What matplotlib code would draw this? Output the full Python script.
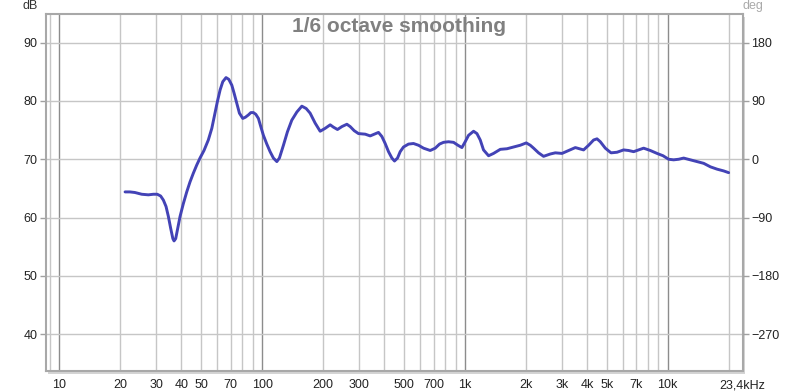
import numpy as np
import matplotlib
matplotlib.use("Agg")
import matplotlib.pyplot as plt
from matplotlib.patches import Rectangle

plt.rcParams['font.family'] = ['Liberation Sans', 'DejaVu Sans']

freq_hz = [21.1, 22.3, 23.6, 25.5, 27.5, 29.1, 30.4, 31.6, 32.6, 33.6, 34.5, 35.4,
           36.3, 36.8, 37.5, 38.4, 39.4, 40.9, 42.5, 44.1, 45.8, 47.6, 49.4, 51.7,
           54.3, 56.5, 58.6, 60.2, 62.1, 64.0, 66.4, 68.5, 70.9, 72.8, 75.0, 77.3,
           80.3, 82.7, 85.6, 88.0, 90.6, 93.1, 95.9, 98.5, 101.5, 105.5, 109.5, 113.7,
           118.2, 121.7, 127.4, 133.3, 140.1, 148.4, 157.0, 164.9, 172.5, 182.6, 193.3,
           204.6, 216.6, 224.8, 235.3, 247.4, 261.8, 271.8, 284.4, 298.6, 322.3, 341.1,
           357.0, 374.8, 389.5, 404.4, 420.0, 436.5, 449.6, 465.2, 479.6, 497.9, 527.0,
           557.7, 590.3, 625.0, 674.4, 713.9, 749.6, 784.4, 830.2, 878.8, 923.6, 966.5,
           1003, 1042, 1103, 1146, 1190, 1235, 1308, 1384, 1494, 1612, 1737, 1874,
           2006, 2100, 2181, 2307, 2442, 2636, 2790, 3010, 3244, 3502, 3676, 3847,
           4073, 4310, 4479, 4651, 4922, 5252, 5622, 6058, 6413, 6788, 7185, 7605,
           8207, 8856, 9480, 10100, 10693, 11320, 11980, 12930, 13950, 15040, 16230,
           17510, 18870, 19970]
spl_db = [64.4, 64.4, 64.3, 64.0, 63.9, 64.0, 64.0, 63.7, 63.0, 61.9, 60.2, 58.2,
          56.4, 56.0, 56.4, 58.2, 60.2, 62.4, 64.4, 66.1, 67.6, 69.0, 70.2, 71.5,
          73.3, 75.3, 77.9, 79.9, 81.9, 83.3, 84.0, 83.7, 82.7, 81.3, 79.6, 77.9,
          77.0, 77.2, 77.6, 78.0, 78.0, 77.7, 77.0, 75.6, 74.1, 72.6, 71.3, 70.2,
          69.6, 70.2, 72.4, 74.7, 76.7, 78.1, 79.1, 78.7, 77.9, 76.2, 74.8,
          75.3, 75.9, 75.5, 75.1, 75.6, 76.0, 75.6, 74.9, 74.4, 74.3, 74.0,
          74.3, 74.6, 73.9, 72.7, 71.3, 70.2, 69.7, 70.2, 71.3, 72.1, 72.6,
          72.7, 72.4, 71.9, 71.5, 71.9, 72.6, 72.9, 73.0, 72.9, 72.4, 72.0,
          73.0, 74.1, 74.8, 74.4, 73.3, 71.6, 70.6, 71.0, 71.7, 71.8, 72.1, 72.4,
          72.8, 72.4, 71.9, 71.1, 70.5, 70.9, 71.1, 71.0, 71.5, 72.0, 71.8, 71.6,
          72.4, 73.3, 73.5, 73.0, 71.9, 71.1, 71.2, 71.6, 71.5, 71.3, 71.6, 71.9,
          71.5, 71.0, 70.6, 70.0, 69.9, 70.0, 70.2, 69.9, 69.6, 69.3, 68.7,
          68.3, 68.0, 67.7]

x_ticks = [10, 20, 30, 40, 50, 70, 100, 200, 300, 500, 700, 1000, 2000, 3000,
           4000, 5000, 7000, 10000, 23400]
x_tick_labels = ['10', '20', '30', '40', '50', '70', '100', '200', '300', '500',
                 '700', '1k', '2k', '3k', '4k', '5k', '7k', '10k', '23,4kHz']
db_ticks = [40, 50, 60, 70, 80, 90]
deg_ticks = [-270, -180, -90, 0, 90, 180]

title = '1/6 octave smoothing'

xmin, xmax = 8.6, 23500
ymin, ymax = 33.7, 94.9

fig = plt.figure(figsize=(8, 3.92), dpi=100)
fig.patch.set_facecolor('white')
l, r, t, b = 46/800, 743/800, 1-14/392, 1-371/392
ax = fig.add_axes([l, b, r-l, t-b])

# shadow
fig.patches.append(Rectangle((l + 2/800, b - 3/392), r-l, t-b, transform=fig.transFigure,
                             facecolor='#d4d4d4', edgecolor='none', zorder=-1))

ax.set_xscale('log')
ax.set_xlim(xmin, xmax)
ax.set_ylim(ymin, ymax)

# grid lines
for dec in [1, 10, 100, 1000, 10000]:
    for m in range(1, 10):
        f = dec * m
        if xmin < f < xmax:
            if m == 1:
                ax.axvline(f, color='#8c8c8c', lw=1.0, zorder=1)
            else:
                ax.axvline(f, color='#c6c6c6', lw=1.0, zorder=1)
for yv in db_ticks:
    ax.axhline(yv, color='#c6c6c6', lw=1.0, zorder=1)

ax.plot(freq_hz, spl_db, color='#4343b6', lw=2.1, zorder=3,
        solid_capstyle='round', solid_joinstyle='round')

ax.set_xticks(x_ticks)
ax.set_xticklabels(x_tick_labels)
ax.xaxis.set_minor_locator(matplotlib.ticker.NullLocator())
ax.set_yticks(db_ticks)
ax.tick_params(axis='x', length=0, pad=6, labelsize=9, labelcolor='#222222')
ax.tick_params(axis='y', length=4, width=1, color='#a0a0a0', pad=2, labelsize=9, labelcolor='#222222')

for s in ax.spines.values():
    s.set_color('#a8a8a8')
    s.set_linewidth(1.5)

ax2 = ax.twinx()
ax2.set_ylim((ymin - 70) * 9, (ymax - 70) * 9)
ax2.set_yticks(deg_ticks)
ax2.tick_params(axis='y', length=4, width=1, color='#a0a0a0', pad=2, labelsize=9, labelcolor='#222222')
for s in ax2.spines.values():
    s.set_visible(False)

fig.text(30/800, 1-6/392, 'dB', ha='center', va='center', fontsize=9, color='#333333')
fig.text(753/800, 1-6/392, 'deg', ha='center', va='center', fontsize=9, color='#aaaaaa')
fig.text(399/800, 1-26/392, title, ha='center', va='center', fontsize=15,
         fontweight='bold', color='#808080', zorder=5)

fig.savefig('out.png', dpi=100)
